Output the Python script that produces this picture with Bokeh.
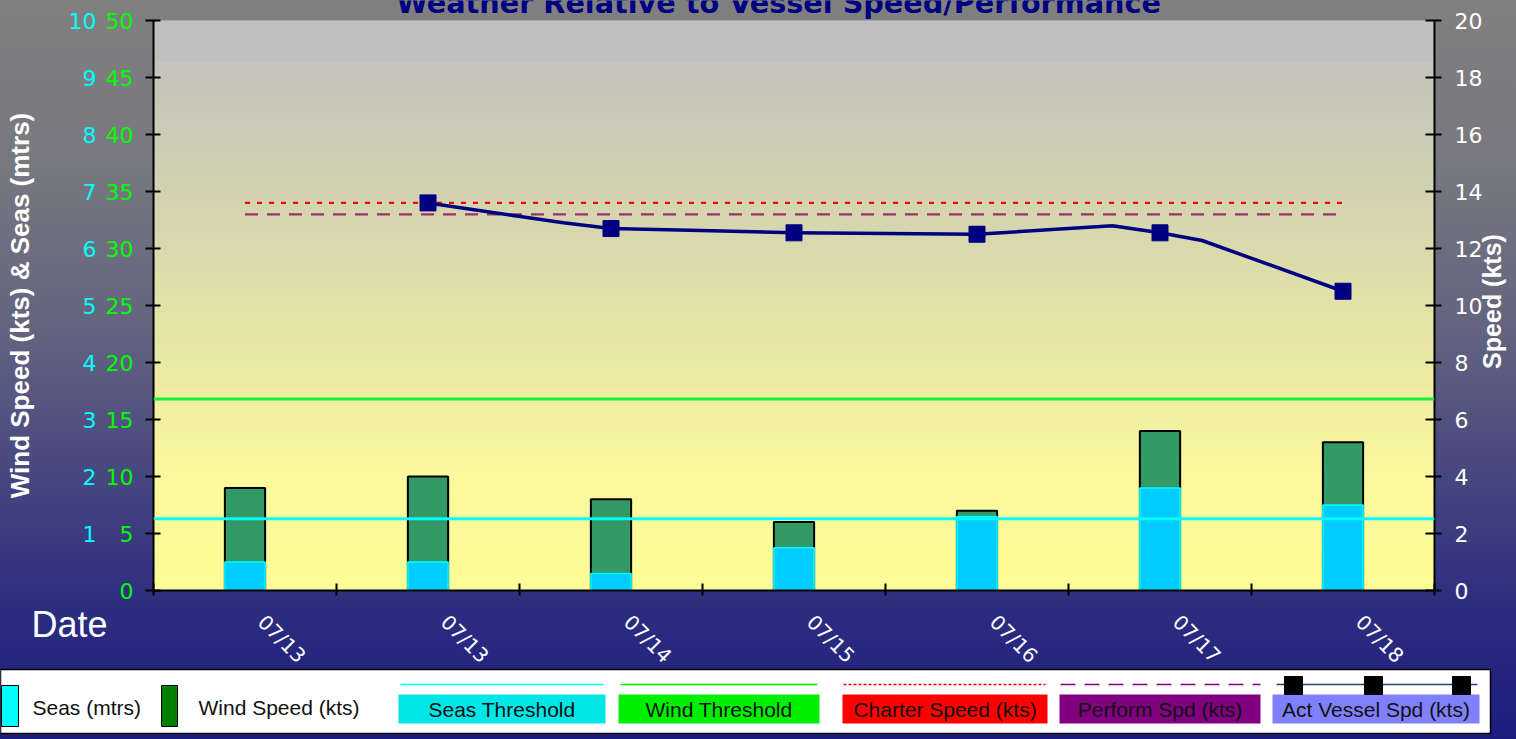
import math
import numpy as np
from bokeh.plotting import figure
from bokeh.models import (Range1d, LinearAxis, FixedTicker, SingleIntervalTicker, Span,
                          CustomJSTickFormatter)
from bokeh.embed import file_html
from bokeh.resources import INLINE
from bokeh.core.properties import value

# ---------------- data ----------------
dates = ["07/13", "07/13", "07/14", "07/15", "07/16", "07/17", "07/18"]
wind_kts = [9, 10, 8, 6, 7, 14, 13]
seas_m = [0.5, 0.5, 0.3, 0.75, 1.3, 1.8, 1.5]
wind_threshold_kts = 16.8
seas_threshold_m = 1.26
charter_speed_kts = 13.6
perform_speed_kts = 13.2
# actual vessel speed: marked reports (category index) and traced line
act_marker_idx = [1, 2, 3, 4, 5, 6]
act_marker_kts = [13.6, 12.7, 12.55, 12.5, 12.55, 10.5]
act_line_idx = [1.0, 1.74, 2.0, 2.49, 3.0, 4.0, 4.74, 5.0, 5.23, 6.0]
act_line_kts = [13.6, 12.9, 12.7, 12.63, 12.55, 12.5, 12.8, 12.55, 12.28, 10.5]
series_names = ["Seas (mtrs)", "Wind Speed (kts)", "Seas Threshold", "Wind Threshold",
                "Charter Speed (kts)", "Perform Spd (kts)", "Act Vessel Spd (kts)"]
title_text = "Weather Relative to Vessel Speed/Performance"
left_title = "Wind Speed (kts) & Seas (mtrs)"
right_title = "Speed (kts)"
x_title = "Date"

n = len(dates)
centers = [i + 0.5 for i in range(n)]
LABEL_SHIFT = 0.09

W, H = 1516, 739
FL, FR, FT, FB = 153, 1434, 20, 590   # plot frame edges (pixels)

# ======================= main chart =======================
p = figure(width=W, height=H, x_range=Range1d(0, n), y_range=Range1d(0, 50),
           output_backend="svg", toolbar_location=None, x_axis_type=None, y_axis_type=None,
           min_border_left=FL, min_border_right=W - FR, min_border_top=FT, min_border_bottom=H - FB)
p.extra_y_ranges = {"seas": Range1d(0, 10), "speed": Range1d(0, 20)}
p.background_fill_color = None
p.border_fill_color = None
p.outline_line_color = None
p.styles = {"background": "linear-gradient(to bottom, #808080 0%, #78787f 22%, "
                          "#636380 45%, #46467f 65%, #2d2d80 82%, #1c1c7e 100%)"}

# plot-area gradient (style only)
stops_y = [0, 10, 17, 25, 35, 46.65, 46.7, 50]
stops_c = np.array([(253, 253, 152), (250, 249, 155), (240, 238, 162), (226, 225, 168),
                    (210, 210, 178), (195, 195, 187), (191, 191, 191), (191, 191, 191)], float)
edges = np.linspace(0, 50, 101)
mids = (edges[:-1] + edges[1:]) / 2
band_cols = []
for m in mids:
    rgb = [int(round(np.interp(m, stops_y, stops_c[:, k]))) for k in range(3)]
    band_cols.append("#%02x%02x%02x" % tuple(rgb))
p.quad(left=0, right=n, bottom=edges[:-1], top=edges[1:], fill_color=band_cols,
       line_color=band_cols, line_width=1)

# axes
wind_axis = LinearAxis(ticker=SingleIntervalTicker(interval=5))
seas_axis = LinearAxis(y_range_name="seas", ticker=FixedTicker(ticks=list(range(1, 11))))
speed_axis = LinearAxis(y_range_name="speed", ticker=SingleIntervalTicker(interval=2))
x_axis = LinearAxis(ticker=FixedTicker(ticks=[c + LABEL_SHIFT for c in centers],
                                       minor_ticks=list(range(n + 1))),
                    formatter=CustomJSTickFormatter(args=dict(labels=dates),
                                                    code="return labels[Math.floor(tick)] || ''"))
for ax in (wind_axis, speed_axis):
    ax.axis_line_color = "black"
    ax.axis_line_width = 2
    ax.major_tick_line_color = "black"
    ax.major_tick_line_width = 2
    ax.minor_tick_line_color = None
    ax.major_label_text_font = "DejaVu Sans"
    ax.major_label_text_font_size = "22px"
wind_axis.major_tick_in = 7
wind_axis.major_tick_out = 8
wind_axis.major_label_standoff = 12
wind_axis.major_label_text_color = "#00ff00"
speed_axis.major_tick_in = 9
speed_axis.major_tick_out = 7
speed_axis.major_label_standoff = 13
speed_axis.major_label_text_color = "white"

seas_axis.axis_line_color = None
seas_axis.major_tick_line_color = None
seas_axis.minor_tick_line_color = None
seas_axis.major_tick_in = 0
seas_axis.major_tick_out = 0
seas_axis.major_label_standoff = 6
seas_axis.major_label_text_color = "#00ffff"
seas_axis.major_label_text_font = "DejaVu Sans"
seas_axis.major_label_text_font_size = "22px"
seas_axis.axis_label = left_title
seas_axis.axis_label_text_color = "white"
seas_axis.axis_label_text_font = "Liberation Sans"
seas_axis.axis_label_text_font_style = "bold"
seas_axis.axis_label_text_font_size = "26px"
seas_axis.axis_label_standoff = 31

x_axis.axis_line_color = "black"
x_axis.axis_line_width = 2
x_axis.major_tick_in = 0
x_axis.major_tick_out = 0
x_axis.major_tick_line_color = None
x_axis.minor_tick_in = 7
x_axis.minor_tick_out = 5
x_axis.minor_tick_line_color = "black"
x_axis.minor_tick_line_width = 2
x_axis.major_label_orientation = -math.pi / 4
x_axis.major_label_standoff = 23
x_axis.major_label_text_color = "white"
x_axis.major_label_text_font = "DejaVu Sans"
x_axis.major_label_text_font_size = "20px"

p.add_layout(wind_axis, "left")
p.add_layout(seas_axis, "left")
p.add_layout(speed_axis, "right")
p.add_layout(x_axis, "below")

# bars
p.vbar(x=centers, top=wind_kts, width=0.22, fill_color="#339966", line_color="black", line_width=2)
p.vbar(x=centers, top=seas_m, width=0.22, y_range_name="seas", fill_color="#00ccff",
       line_color="#00ffff", line_width=1.5)

# thresholds
p.add_layout(Span(location=wind_threshold_kts, dimension="width", line_color="#1af03c", line_width=3))
p.add_layout(Span(location=seas_threshold_m, dimension="width", y_range_name="seas",
                  line_color="#00ffff", line_width=3))

# charter / performance speeds
p.line([centers[0], centers[-1]], [charter_speed_kts] * 2, y_range_name="speed",
       line_color="#ff0000", line_width=2.2, line_dash="5 7")
p.line([centers[0], centers[-1]], [perform_speed_kts] * 2, y_range_name="speed",
       line_color="#993366", line_width=2.2, line_dash="13 9")

# actual vessel speed
p.line([i + 0.5 for i in act_line_idx], act_line_kts, y_range_name="speed",
       line_color="#000080", line_width=3.5, line_join="round")
p.scatter([i + 0.5 for i in act_marker_idx], act_marker_kts, y_range_name="speed",
          marker="square", size=16, fill_color="#000080", line_color="#000080")

# ======================= overlay: titles + legend (pixel space) =======================
ov = figure(width=W, height=H, x_range=Range1d(0, W), y_range=Range1d(H, 0),
            output_backend="svg", toolbar_location=None, x_axis_type=None, y_axis_type=None,
            min_border=0)
ov.min_border_left = 0
ov.min_border_right = 0
ov.min_border_top = 0
ov.min_border_bottom = 0
ov.background_fill_color = None
ov.border_fill_color = None
ov.outline_line_color = None
ov.grid.visible = False
ov.styles = {"position": "absolute", "top": "0px", "left": "0px"}

ov.text(x=[778], y=[2], text=[title_text], text_align="center", text_baseline="alphabetic",
        text_font=value("DejaVu Sans"), text_font_style="bold", text_font_size=value("28.7px"),
        text_color="#000080")
ov.text(x=[107], y=[624], text=[x_title], text_align="right", text_baseline="alphabetic",
        text_font=value("Liberation Sans"), text_font_size=value("36px"), text_color="white")
ov.text(x=[1491], y=[301], text=[right_title], angle=math.pi / 2, text_align="center",
        text_baseline="middle", text_font=value("Liberation Sans"), text_font_style="bold",
        text_font_size=value("25px"), text_color="white")

# legend box
ov.quad(left=0, right=1490, top=669, bottom=733, fill_color="white", line_color="black", line_width=1.5)
ov.quad(left=[1, 161], right=[18, 177], top=685, bottom=726,
        fill_color=["#00ffff", "#008000"], line_color="black", line_width=1)
ov.text(x=[32, 198], y=[707, 707], text=series_names[:2], text_align="left", text_baseline="middle",
        text_font=value("Liberation Sans"), text_font_size=value("21px"), text_color="#111111")

box_l = [398, 618, 842, 1059, 1272]
box_r = [605, 819, 1047, 1260, 1479]
box_c = ["#00e6e6", "#00ee00", "#ff0000", "#800080", "#8080ff"]
ov.quad(left=box_l, right=box_r, top=694, bottom=723, fill_color=box_c, line_color=None)
ov.text(x=[(a + b) / 2 for a, b in zip(box_l, box_r)], y=[709] * 5, text=series_names[2:],
        text_align="center", text_baseline="middle", text_font=value("Liberation Sans"),
        text_font_size=value("21px"), text_color="#111111")
ov.line([400, 603], [684, 684], line_color="#00ffff", line_width=1.5)
ov.line([620, 817], [684, 684], line_color="#00ee00", line_width=1.5)
ov.line([843, 1045], [684, 684], line_color="#ff0000", line_width=1.5, line_dash="3 2")
ov.line([1060, 1260], [684, 684], line_color="#800080", line_width=1.5, line_dash="15 9")
ov.line([1276, 1477], [684, 684], line_color="#1f4080", line_width=1.5)
ov.scatter([1293, 1373, 1461], [685, 685, 685], marker="square", size=18,
           fill_color="black", line_color="black")

open("out.html", "w").write(file_html([p, ov], INLINE))
